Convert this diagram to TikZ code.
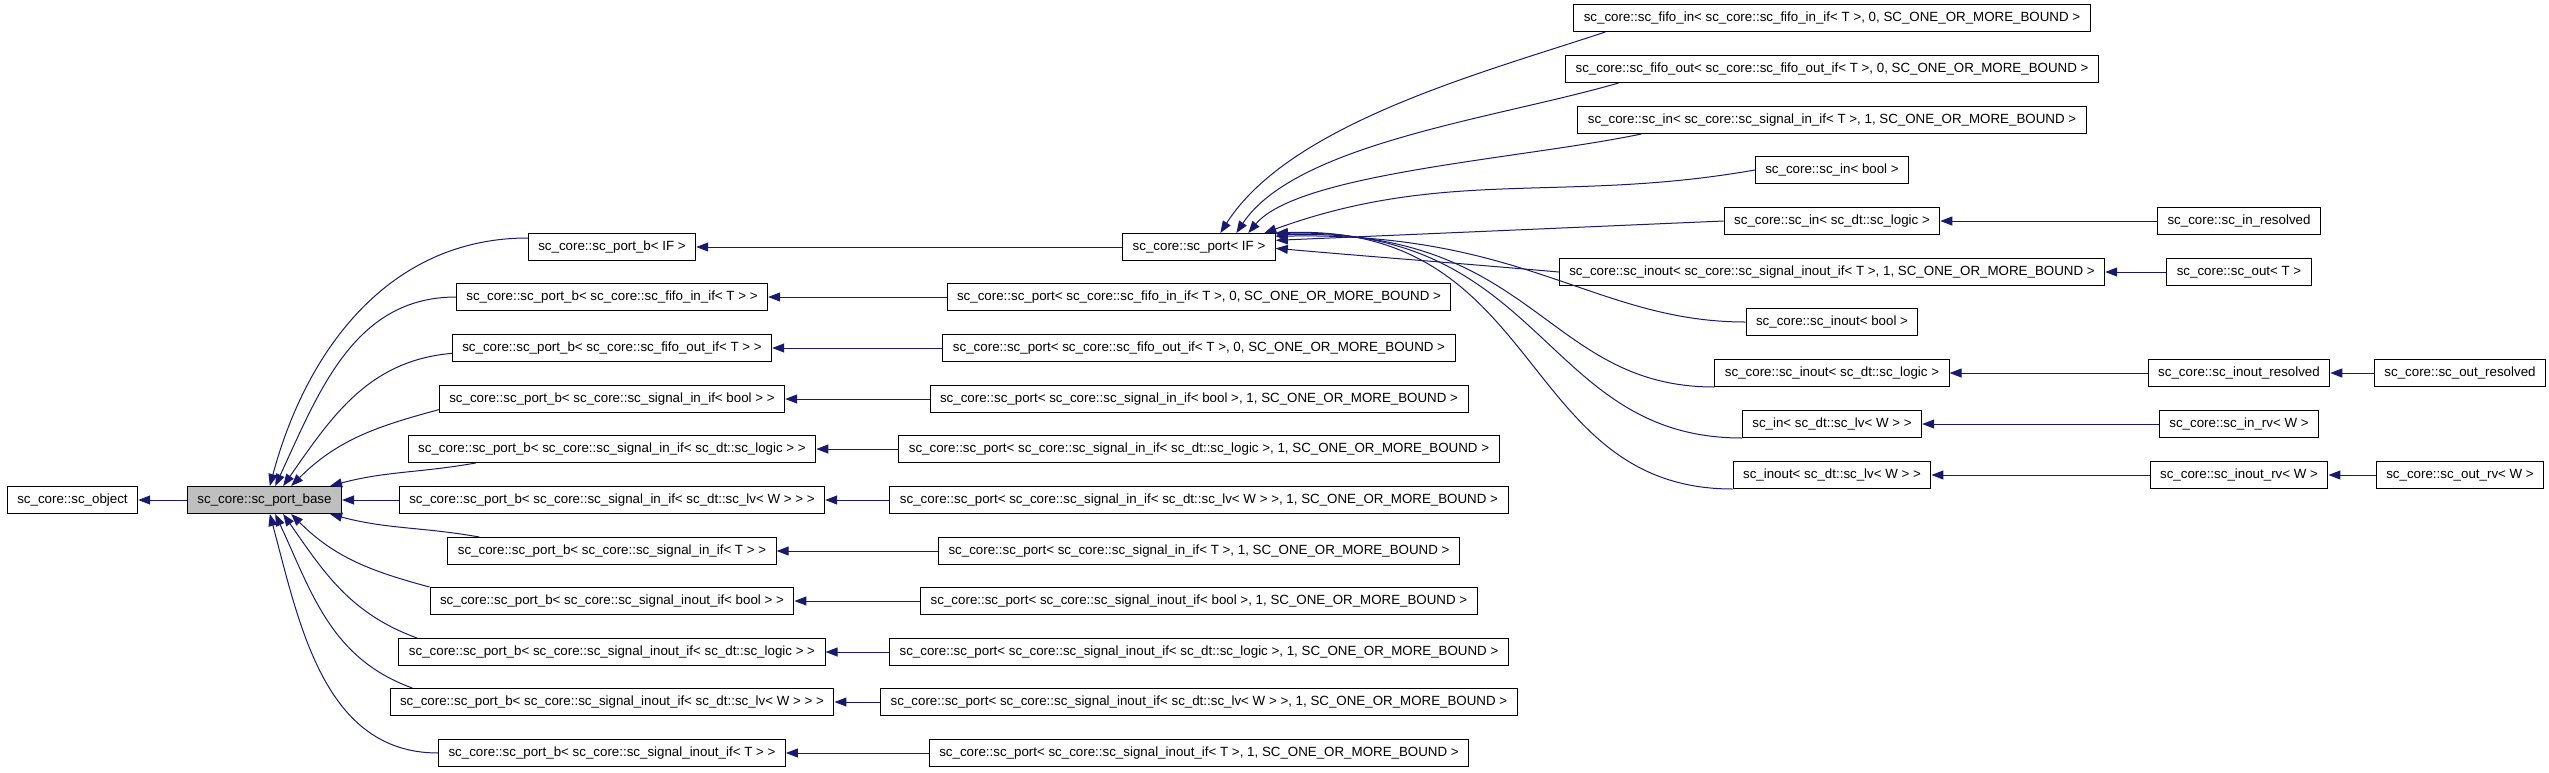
\documentclass[tikz,border=0pt]{standalone}
\usepackage{fontspec}
\setmainfont{Liberation Sans}
\usetikzlibrary{arrows.meta}
\definecolor{edgeblue}{HTML}{191970}
\begin{document}
\begin{tikzpicture}[x=0.75pt,y=0.75pt,
    cls/.style={draw=black,line width=0.75pt,fill=white,minimum height=20.25pt,
      inner xsep=7.5pt,inner ysep=0pt,font=\fontsize{10}{12}\selectfont},
    cur/.style={cls,fill=gray!50},
    inh/.style={draw=edgeblue,line width=0.75pt,-{Triangle[length=9pt,width=6.75pt]}}]
    \useasboundingbox (0,0) rectangle (2549,-772);
    % base classes
    \node[cls] (obj) at (72.5,-500) {sc\_core::sc\_object};
    \node[cur] (base) at (264.5,-500) {sc\_core::sc\_port\_base};
    % sc_port_b column
    \node[cls] (pbIF) at (612,-247) {sc\_core::sc\_port\_b< IF >};
    \node[cls] (pbFifoIn) at (612,-297) {sc\_core::sc\_port\_b< sc\_core::sc\_fifo\_in\_if< T > >};
    \node[cls] (pbFifoOut) at (612,-348) {sc\_core::sc\_port\_b< sc\_core::sc\_fifo\_out\_if< T > >};
    \node[cls] (pbSigInBool) at (612,-399) {sc\_core::sc\_port\_b< sc\_core::sc\_signal\_in\_if< bool > >};
    \node[cls] (pbSigInLogic) at (612,-449) {sc\_core::sc\_port\_b< sc\_core::sc\_signal\_in\_if< sc\_dt::sc\_logic > >};
    \node[cls] (pbSigInLv) at (612,-500) {sc\_core::sc\_port\_b< sc\_core::sc\_signal\_in\_if< sc\_dt::sc\_lv< W > > >};
    \node[cls] (pbSigInT) at (612,-551) {sc\_core::sc\_port\_b< sc\_core::sc\_signal\_in\_if< T > >};
    \node[cls] (pbInoutBool) at (612,-601) {sc\_core::sc\_port\_b< sc\_core::sc\_signal\_inout\_if< bool > >};
    \node[cls] (pbInoutLogic) at (612,-652) {sc\_core::sc\_port\_b< sc\_core::sc\_signal\_inout\_if< sc\_dt::sc\_logic > >};
    \node[cls] (pbInoutLv) at (612,-702) {sc\_core::sc\_port\_b< sc\_core::sc\_signal\_inout\_if< sc\_dt::sc\_lv< W > > >};
    \node[cls] (pbInoutT) at (612,-753) {sc\_core::sc\_port\_b< sc\_core::sc\_signal\_inout\_if< T > >};
    % sc_port column
    \node[cls] (portIF) at (1199,-247) {sc\_core::sc\_port< IF >};
    \node[cls] (portFifoIn) at (1199,-297) {sc\_core::sc\_port< sc\_core::sc\_fifo\_in\_if< T >, 0, SC\_ONE\_OR\_MORE\_BOUND >};
    \node[cls] (portFifoOut) at (1199,-348) {sc\_core::sc\_port< sc\_core::sc\_fifo\_out\_if< T >, 0, SC\_ONE\_OR\_MORE\_BOUND >};
    \node[cls] (portSigInBool) at (1199,-399) {sc\_core::sc\_port< sc\_core::sc\_signal\_in\_if< bool >, 1, SC\_ONE\_OR\_MORE\_BOUND >};
    \node[cls] (portSigInLogic) at (1199,-449) {sc\_core::sc\_port< sc\_core::sc\_signal\_in\_if< sc\_dt::sc\_logic >, 1, SC\_ONE\_OR\_MORE\_BOUND >};
    \node[cls] (portSigInLv) at (1199,-500) {sc\_core::sc\_port< sc\_core::sc\_signal\_in\_if< sc\_dt::sc\_lv< W > >, 1, SC\_ONE\_OR\_MORE\_BOUND >};
    \node[cls] (portSigInT) at (1199,-551) {sc\_core::sc\_port< sc\_core::sc\_signal\_in\_if< T >, 1, SC\_ONE\_OR\_MORE\_BOUND >};
    \node[cls] (portInoutBool) at (1199,-601) {sc\_core::sc\_port< sc\_core::sc\_signal\_inout\_if< bool >, 1, SC\_ONE\_OR\_MORE\_BOUND >};
    \node[cls] (portInoutLogic) at (1199,-652) {sc\_core::sc\_port< sc\_core::sc\_signal\_inout\_if< sc\_dt::sc\_logic >, 1, SC\_ONE\_OR\_MORE\_BOUND >};
    \node[cls] (portInoutLv) at (1199,-702) {sc\_core::sc\_port< sc\_core::sc\_signal\_inout\_if< sc\_dt::sc\_lv< W > >, 1, SC\_ONE\_OR\_MORE\_BOUND >};
    \node[cls] (portInoutT) at (1199,-753) {sc\_core::sc\_port< sc\_core::sc\_signal\_inout\_if< T >, 1, SC\_ONE\_OR\_MORE\_BOUND >};
    % derived ports
    \node[cls] (fifoIn) at (1832,-18) {sc\_core::sc\_fifo\_in< sc\_core::sc\_fifo\_in\_if< T >, 0, SC\_ONE\_OR\_MORE\_BOUND >};
    \node[cls] (fifoOut) at (1832,-69) {sc\_core::sc\_fifo\_out< sc\_core::sc\_fifo\_out\_if< T >, 0, SC\_ONE\_OR\_MORE\_BOUND >};
    \node[cls] (inT) at (1832,-120) {sc\_core::sc\_in< sc\_core::sc\_signal\_in\_if< T >, 1, SC\_ONE\_OR\_MORE\_BOUND >};
    \node[cls] (inBool) at (1832,-170) {sc\_core::sc\_in< bool >};
    \node[cls] (inLogic) at (1832,-221) {sc\_core::sc\_in< sc\_dt::sc\_logic >};
    \node[cls] (inoutT) at (1832,-272) {sc\_core::sc\_inout< sc\_core::sc\_signal\_inout\_if< T >, 1, SC\_ONE\_OR\_MORE\_BOUND >};
    \node[cls] (inoutBool) at (1832,-322) {sc\_core::sc\_inout< bool >};
    \node[cls] (inoutLogic) at (1832,-373) {sc\_core::sc\_inout< sc\_dt::sc\_logic >};
    \node[cls] (inLv) at (1832,-424) {sc\_in< sc\_dt::sc\_lv< W > >};
    \node[cls] (inoutLv) at (1832,-475) {sc\_inout< sc\_dt::sc\_lv< W > >};
    \node[cls] (inRes) at (2239,-221) {sc\_core::sc\_in\_resolved};
    \node[cls] (outT) at (2239,-272) {sc\_core::sc\_out< T >};
    \node[cls] (inoutRes) at (2239,-373) {sc\_core::sc\_inout\_resolved};
    \node[cls] (inRv) at (2239,-424) {sc\_core::sc\_in\_rv< W >};
    \node[cls] (inoutRv) at (2239,-475) {sc\_core::sc\_inout\_rv< W >};
    \node[cls] (outRes) at (2460,-373) {sc\_core::sc\_out\_resolved};
    \node[cls] (outRv) at (2460,-475) {sc\_core::sc\_out\_rv< W >};
    % straight inheritance
    \draw[inh] (base) -- (obj);
    \draw[inh] (pbSigInLv) -- (base);
    \draw[inh] (portIF) -- (pbIF);
    \foreach \n in {FifoIn,FifoOut,SigInBool,SigInLogic,SigInLv,SigInT,InoutBool,InoutLogic,InoutLv,InoutT}
      \draw[inh] (port\n) -- (pb\n);
    \draw[inh] (inRes) -- (inLogic);
    \draw[inh] (outT) -- (inoutT);
    \draw[inh] (inoutRes) -- (inoutLogic);
    \draw[inh] (outRes) -- (inoutRes);
    \draw[inh] (inRv) -- (inLv);
    \draw[inh] (inoutRv) -- (inoutLv);
    \draw[inh] (outRv) -- (inoutRv);
    % fan into sc_port_base
    \draw[inh] ([yshift=6.75pt]pbIF.west) to[out=180,in=75] ([xshift=4pt]base.north);
    \draw[inh] (pbFifoIn.west) to[out=180,in=65] ([xshift=8pt]base.north);
    \draw[inh] ([yshift=-4pt]pbFifoOut.west) to[out=185,in=55] ([xshift=14pt]base.north);
    \draw[inh] ([yshift=-8pt]pbSigInBool.west) to[out=195,in=45] ([xshift=20pt]base.north);
    \draw[inh] ([xshift=51pt]pbSigInLogic.south west) to[out=190,in=15] ([xshift=-9pt]base.north east);
    \draw[inh] ([xshift=24pt]pbSigInT.north west) to[out=170,in=-15] ([xshift=-9pt]base.south east);
    \draw[inh] (pbInoutBool.north west) to[out=165,in=-45] ([xshift=20pt]base.south);
    \draw[inh] ([xshift=14pt]pbInoutLogic.north west) to[out=160,in=-55] ([xshift=14pt]base.south);
    \draw[inh] ([xshift=17pt]pbInoutLv.north west) to[out=160,in=-65] ([xshift=8pt]base.south);
    \draw[inh] (pbInoutT.west) to[out=180,in=-75] ([xshift=4pt]base.south);
    % fan into sc_port< IF >
    \draw[inh] ([xshift=24pt]fifoIn.south west) .. controls +(-120,-40) and +(70,110) .. ([xshift=16pt]portIF.north);
    \draw[inh] ([xshift=40pt]fifoOut.south west) .. controls +(-120,-35) and +(60,90) .. ([xshift=28pt]portIF.north);
    \draw[inh] ([xshift=48pt]inT.south west) .. controls +(-120,-25) and +(50,60) .. ([xshift=37pt]portIF.north);
    \draw[inh] (inBool.west) to[out=190,in=20] ([xshift=49pt]portIF.north);
    \draw[inh] (inLogic.west) -- ([yshift=5pt]portIF.east);
    \draw[inh] (inoutT.west) to[out=175,in=-5] ([yshift=-1pt]portIF.east);
    \draw[inh] (inoutBool.west) .. controls +(-150,0) and +(250,5) .. ([yshift=8pt]portIF.east);
    \draw[inh] (inoutLogic.south west) .. controls +(-170,0) and +(260,8) .. ([yshift=9pt]portIF.east);
    \draw[inh] (inLv.south west) .. controls +(-200,0) and +(270,8) .. ([yshift=10pt]portIF.east);
    \draw[inh] (inoutLv.south west) .. controls +(-215,0) and +(270,10) .. (portIF.north east);
\end{tikzpicture}
\end{document}
